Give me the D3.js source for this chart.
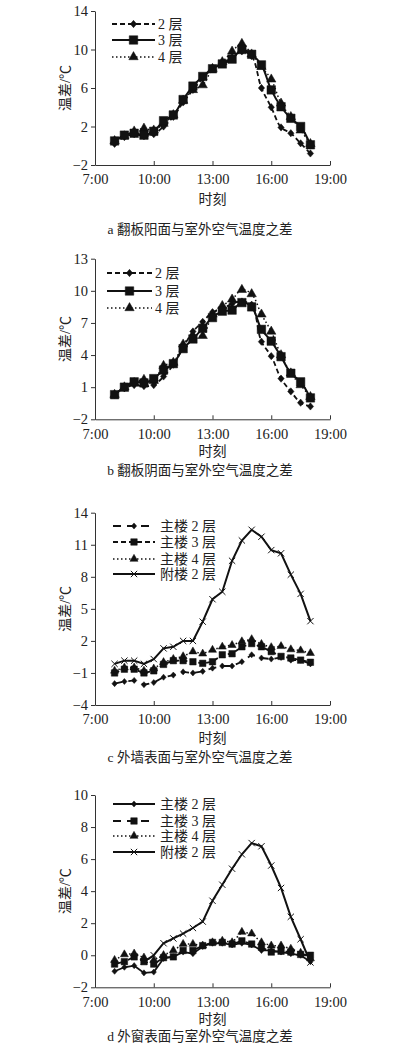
<!DOCTYPE html>
<html>
<head>
<meta charset="utf-8">
<script src="https://cdn.jsdelivr.net/npm/d3@7"></script>
<style>
  body { margin: 0; background: #fff; }
  svg text { fill: #222; }
</style>
</head>
<body>
<div id="chart"></div>
<script>
// sample times (every half hour)
const times = ["8:00","8:30","9:00","9:30","10:00","10:30","11:00","11:30","12:00","12:30",
  "13:00","13:30","14:00","14:30","15:00","15:30","16:00","16:30","17:00","17:30","18:00"];
const xTickLabels = ["7:00","10:00","13:00","16:00","19:00"];

const yTicksA = [-2, 2, 6, 10, 14];
const yTicksB = [-2, 1, 4, 7, 10, 13];
const yTicksC = [-4, -1, 2, 5, 8, 11, 14];
const yTicksD = [-2, 0, 2, 4, 6, 8, 10];

const namesAB = ["2 层", "3 层", "4 层"];
const namesCD = ["主楼 2 层", "主楼 3 层", "主楼 4 层", "附楼 2 层"];
const captions = ["a 翻板阳面与室外空气温度之差", "b 翻板阴面与室外空气温度之差",
  "c 外墙表面与室外空气温度之差", "d 外窗表面与室外空气温度之差"];

// a 翻板阳面
const a2 = [0.2,0.9,1.2,1.0,1.2,2.0,3.0,4.5,5.8,7.0,8.0,8.5,9.2,9.8,9.3,6.0,4.0,1.9,1.3,0.25,-0.8];
const a3 = [0.5,1.1,1.3,1.1,1.5,2.6,3.2,4.8,6.2,7.2,8.0,8.5,9.0,10.0,9.5,8.4,5.8,4.05,2.85,2.0,0.1];
const a4 = [0.5,1.0,1.5,1.8,1.6,2.3,3.2,4.7,5.8,6.3,8.0,8.7,9.8,10.6,9.5,8.2,6.9,4.4,3.0,1.6,0.2];
// b 翻板阴面
const b2 = [0.3,0.9,1.2,1.1,1.2,2.0,3.1,4.7,6.2,7.1,8.0,8.3,8.8,9.0,8.7,5.25,3.9,1.8,0.6,-0.45,-0.8];
const b3 = [0.3,1.0,1.5,1.4,1.8,2.6,3.2,4.6,5.5,6.5,7.5,8.1,8.2,8.9,8.5,6.4,5.3,3.85,2.3,1.5,0.0];
const b4 = [0.3,1.0,1.4,1.7,1.6,3.0,3.3,5.0,5.8,5.8,7.8,8.6,9.2,10.1,9.7,7.8,6.2,4.0,2.3,1.2,0.1];
// c 外墙表面
const c2 = [-2.0,-1.8,-1.7,-2.1,-1.9,-1.4,-1.2,-0.9,-1.0,-0.85,-0.55,-0.35,-0.35,0.05,0.7,0.4,0.3,0.45,0.2,0.2,-0.15];
const c3 = [-1.0,-0.65,-0.65,-1.0,-0.8,-0.2,0.15,0.15,0.05,-0.1,0.05,0.7,0.8,1.45,1.75,1.45,1.0,0.55,0.4,0.2,0.0];
const c4 = [-0.8,-0.5,-0.5,-0.8,-0.6,0.0,0.3,0.55,1.0,0.8,1.15,1.45,1.6,1.95,2.15,1.7,1.4,1.5,1.2,1.1,0.85];
const c5 = [-0.15,0.15,0.15,-0.15,0.3,1.3,1.45,2.0,2.0,3.8,5.9,6.6,9.5,11.4,12.4,11.75,10.5,10.2,8.2,6.4,3.85];
// d 外窗表面
const d2 = [-1.0,-0.75,-0.65,-1.1,-1.05,-0.2,-0.1,0.2,0.1,0.55,0.75,0.75,0.65,0.75,0.65,0.3,0.3,0.2,0.1,0.0,-0.4];
const d3v = [-0.55,-0.4,-0.1,-0.4,-0.55,-0.15,-0.1,0.3,0.3,0.6,0.8,0.8,0.7,0.9,0.7,0.5,0.2,0.25,0.2,0.05,0.0];
const d4 = [-0.3,0.05,0.1,-0.15,-0.3,0.0,0.3,0.7,0.7,0.6,0.8,0.9,0.8,1.45,1.35,0.8,0.6,0.6,0.4,0.15,-0.2];
const d5 = [null,null,null,-0.4,0.0,0.75,1.05,1.35,1.7,2.1,3.4,4.4,5.4,6.3,7.0,6.8,5.6,4.2,2.4,1.0,-0.45];

const width = 397, height = 1049;
const serif = "'Liberation Serif', 'DejaVu Serif', serif";
const cjk = "'Liberation Serif', 'Noto Sans CJK SC', sans-serif";

const toHour = s => { const p = s.split(":"); return +p[0] + (+p[1]) / 60; };

// custom marker shapes
const diamond = { draw(ctx, size) { const r = Math.sqrt(size) / 2;
  ctx.moveTo(0, -r * 1.15); ctx.lineTo(r, 0); ctx.lineTo(0, r * 1.15); ctx.lineTo(-r, 0); ctx.closePath(); } };
const cross = { draw(ctx, size) { const r = Math.sqrt(size) / 2;
  ctx.moveTo(-r, -r); ctx.lineTo(r, r); ctx.moveTo(r, -r); ctx.lineTo(-r, r); } };

const DASH = "5,3", LONG = "8,6", DOT = "1.5,2.5";

const panels = [
  { top: 11, bottom: 165, yTicks: yTicksA, caption: captions[0], off: [15, 34, 64],
    legendY: [24, 40, 57], legendX: [112, 155, 158], curve: d3.curveCatmullRom,
    series: [
      { name: namesAB[2], values: a4, dash: DOT, sym: d3.symbolTriangle, size: 38, w: 1.5 },
      { name: namesAB[0], values: a2, dash: DASH, sym: diamond, size: 40, w: 1.8 },
      { name: namesAB[1], values: a3, dash: null, sym: d3.symbolSquare, size: 72, w: 2 } ],
    legendOrder: [1, 2, 0] },
  { top: 258.7, bottom: 419.3, yTicks: yTicksB, caption: captions[1], off: [14, 32, 51],
    legendY: [273, 291, 308], legendX: [107, 152, 155], curve: d3.curveCatmullRom,
    series: [
      { name: namesAB[2], values: b4, dash: DOT, sym: d3.symbolTriangle, size: 38, w: 1.5 },
      { name: namesAB[0], values: b2, dash: DASH, sym: diamond, size: 40, w: 1.8 },
      { name: namesAB[1], values: b3, dash: null, sym: d3.symbolSquare, size: 72, w: 2 } ],
    legendOrder: [1, 2, 0] },
  { top: 512.7, bottom: 705, yTicks: yTicksC, caption: captions[2], off: [15, 33, 52],
    legendY: [526, 542, 559, 574], legendX: [113, 155, 160], curve: d3.curveLinear,
    series: [
      { name: namesCD[0], values: c2, dash: LONG, sym: diamond, size: 28, w: 1.8 },
      { name: namesCD[1], values: c3, dash: DASH, sym: d3.symbolSquare, size: 42, w: 1.8 },
      { name: namesCD[2], values: c4, dash: DOT, sym: d3.symbolTriangle, size: 28, w: 1.5 },
      { name: namesCD[3], values: c5, dash: null, sym: cross, size: 40, w: 2, stroke: true } ],
    legendOrder: [0, 1, 2, 3] },
  { top: 795, bottom: 987.3, yTicks: yTicksD, caption: captions[3], off: [14, 32, 49],
    legendY: [804, 821, 836, 852], legendX: [113, 155, 160], curve: d3.curveLinear,
    series: [
      { name: namesCD[0], values: d2, dash: null, sym: diamond, size: 28, w: 1.8 },
      { name: namesCD[1], values: d3v, dash: LONG, sym: d3.symbolSquare, size: 42, w: 1.8 },
      { name: namesCD[2], values: d4, dash: DOT, sym: d3.symbolTriangle, size: 28, w: 1.5 },
      { name: namesCD[3], values: d5, dash: null, sym: cross, size: 40, w: 2, stroke: true } ],
    legendOrder: [0, 1, 2, 3] }
];

const svg = d3.select("#chart").append("svg")
    .attr("width", width)
    .attr("height", height);

// shared x scale (hours of day)
const x = d3.scaleLinear().domain([7, 19]).range([95, 330]);
const xTickVals = xTickLabels.map(toHour);
const hours = times.map(toHour);

panels.forEach(p => {
  const g = svg.append("g");
  const yExt = d3.extent(p.yTicks);
  const y = d3.scaleLinear().domain(yExt).range([p.bottom, p.top]);

  // X axis, ticks point up into the plot
  const xAxis = g.append("g")
      .attr("transform", "translate(0," + p.bottom + ")")
      .call(d3.axisBottom(x).tickValues(xTickVals)
        .tickFormat((d, i) => xTickLabels[i]).tickSize(-4).tickSizeOuter(0).tickPadding(9));
  xAxis.selectAll("text").attr("font-family", serif).attr("font-size", 14.5);

  // Y axis
  const yAxis = g.append("g")
      .attr("transform", "translate(" + x(7) + ",0)")
      .call(d3.axisLeft(y).tickValues(p.yTicks).tickFormat(d => d < 0 ? "\u2212" + (-d) : d)
        .tickSize(4).tickSizeOuter(0).tickPadding(3));
  yAxis.selectAll("text").attr("font-family", serif).attr("font-size", 14.5);
  g.selectAll(".domain, .tick line").attr("stroke", "#333").attr("stroke-width", 1);

  // axis titles and caption
  g.append("text")
      .attr("transform", "translate(65," + ((p.top + p.bottom) / 2) + ") rotate(-90)")
      .attr("text-anchor", "middle").attr("dominant-baseline", "central")
      .attr("font-family", cjk).attr("font-size", 14)
      .text("温差/℃");
  g.append("text")
      .attr("x", (x(7) + x(19)) / 2).attr("y", p.bottom + p.off[1])
      .attr("text-anchor", "middle").attr("dominant-baseline", "central")
      .attr("font-family", cjk).attr("font-size", 14)
      .text("时刻");
  g.append("text")
      .attr("x", 200).attr("y", p.bottom + p.off[2])
      .attr("text-anchor", "middle").attr("dominant-baseline", "central")
      .attr("font-family", cjk).attr("font-size", 13.5)
      .text(p.caption);

  // lines
  p.series.forEach(s => {
    const pts = hours.map((h, i) => ({ h: h, v: s.values[i] })).filter(d => d.v !== null);
    g.append("path")
        .datum(pts)
        .attr("fill", "none")
        .attr("stroke", "#111")
        .attr("stroke-width", s.w)
        .attr("stroke-dasharray", s.dash)
        .attr("d", d3.line().curve(p.curve).x(d => x(d.h)).y(d => y(d.v)));
  });

  // markers
  p.series.forEach(s => {
    const pts = hours.map((h, i) => ({ h: h, v: s.values[i] })).filter(d => d.v !== null);
    g.selectAll(null)
      .data(pts)
      .join("path")
        .attr("transform", d => "translate(" + x(d.h) + "," + y(d.v) + ")")
        .attr("d", d3.symbol(s.sym, s.size))
        .attr("fill", s.stroke ? "none" : "#111")
        .attr("stroke", "#111")
        .attr("stroke-width", s.stroke ? 1 : 0.5);
  });

  // legend
  p.legendOrder.forEach((k, r) => {
    const s = p.series[k];
    const ly = p.legendY[r];
    const lx0 = p.legendX[0], lx1 = p.legendX[1];
    g.append("line")
        .attr("x1", lx0).attr("x2", lx1).attr("y1", ly).attr("y2", ly)
        .attr("stroke", "#111").attr("stroke-width", s.w)
        .attr("stroke-dasharray", s.dash);
    g.append("path")
        .attr("transform", "translate(" + ((lx0 + lx1) / 2) + "," + ly + ")")
        .attr("d", d3.symbol(s.sym, s.size))
        .attr("fill", s.stroke ? "none" : "#111")
        .attr("stroke", "#111")
        .attr("stroke-width", s.stroke ? 1 : 0.5);
    g.append("text")
        .attr("x", p.legendX[2]).attr("y", ly)
        .attr("dominant-baseline", "central")
        .attr("font-family", cjk).attr("font-size", 14)
        .text(s.name);
  });
});
</script>
</body>
</html>
